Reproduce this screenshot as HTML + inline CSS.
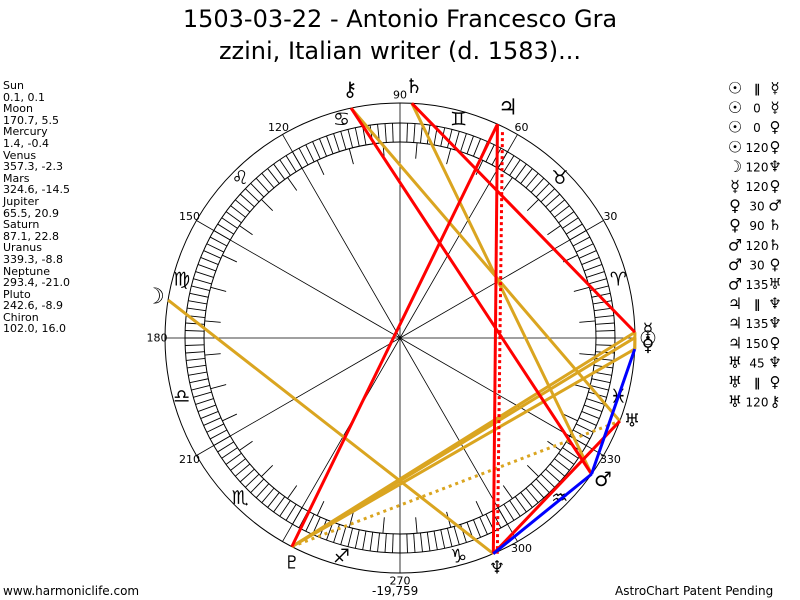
<!DOCTYPE html>
<html><head><meta charset="utf-8"><style>
body{margin:0;background:#fff;width:800px;height:600px;overflow:hidden;font-family:"DejaVu Sans","Liberation Sans",sans-serif}
#t{position:absolute;left:0;width:800px;text-align:center;font-size:24px;top:3px;line-height:32px;font-family:"DejaVu Sans",sans-serif}
#l{position:absolute;left:3px;top:80px;font-size:11px;line-height:11.6px}
.b{position:absolute;font-size:12px}
</style></head><body>
<div id="t">1503-03-22 - Antonio Francesco Gra<br>zzini, Italian writer (d. 1583)...</div>
<div id="l">Sun<br>0.1, 0.1<br>Moon<br>170.7, 5.5<br>Mercury<br>1.4, -0.4<br>Venus<br>357.3, -2.3<br>Mars<br>324.6, -14.5<br>Jupiter<br>65.5, 20.9<br>Saturn<br>87.1, 22.8<br>Uranus<br>339.3, -8.8<br>Neptune<br>293.4, -21.0<br>Pluto<br>242.6, -8.9<br>Chiron<br>102.0, 16.0</div>
<div class="b" style="left:3px;top:584px">www.harmoniclife.com</div>
<div class="b" style="left:372px;top:584px">-19,759</div>
<div class="b" style="left:615px;top:584px">AstroChart Patent Pending</div>
<svg id="s" width="800" height="600" style="position:absolute;left:0;top:0"></svg>
<script>
var cx=400,cy=338,s='';
function P(a,r){var t=a*Math.PI/180;return [cx+r*Math.cos(t),cy-r*Math.sin(t)];}
function L(a,b,c,w,d){s+='<line x1="'+a[0]+'" y1="'+a[1]+'" x2="'+b[0]+'" y2="'+b[1]+'" stroke="'+c+'" stroke-width="'+w+'"'+(d?' stroke-dasharray="'+d+'"':'')+'/>';}
function T(p,txt,sz,fill){s+='<text x="'+p[0]+'" y="'+p[1]+'" font-size="'+sz+'" text-anchor="middle" dominant-baseline="central" fill="'+(fill||'#000')+'">'+txt+'</text>';}
s+='<circle cx="400" cy="338" r="235" fill="none" stroke="#000"/>';
s+='<circle cx="400" cy="338" r="215" fill="none" stroke="#000"/>';
s+='<circle cx="400" cy="338" r="196" fill="none" stroke="#000"/>';
for(var a=0;a<360;a+=2)L(P(a,196),P(a,215),'#000',0.9);
for(var a=5;a<360;a+=10)L(P(a,180),P(a,196),'#000',0.9);
for(var a=0;a<360;a+=30){L([cx,cy],P(a,235),'#000',0.8);}
var lab={30:'30',60:'60',90:'90',120:'120',150:'150',180:'180',210:'210',270:'270',300:'300',330:'330'};
for(var k in lab){var p=P(+k,243);s+='<text x="'+p[0]+'" y="'+p[1]+'" font-size="11" text-anchor="middle" dominant-baseline="central">'+lab[k]+'</text>';}
var sg='♈♉♊♋♌♍♎♏♐♑♒♓';
for(var i=0;i<12;i++)T(P(i*30+15,226),sg[i]+'\uFE0E',19,'#000');
var pl={Su:0.1,Mo:170.7,Me:1.4,Ve:357.3,Ma:324.6,Ju:65.5,Sa:87.1,Ur:339.3,Ne:293.4,Pl:242.6,Ch:102};
function Q(n){return P(pl[n],235);}
var G='#daa520',R='#ff0000',B='#0000ff';
L(Q('Mo'),Q('Ne'),G,3);L(Q('Ch'),Q('Ur'),G,3);L(Q('Sa'),Q('Ma'),G,3);
L(Q('Pl'),Q('Su'),G,3);L(Q('Pl'),Q('Me'),G,3);L(Q('Pl'),Q('Ve'),G,3);
L(Q('Pl'),Q('Ur'),G,3,'3,4');L(Q('Ve'),Q('Su'),G,3);L(Q('Ve'),Q('Me'),G,3);
L(Q('Pl'),Q('Ju'),R,3);L(Q('Sa'),Q('Me'),R,3);L(Q('Ch'),Q('Ma'),R,3);
L(Q('Ju'),Q('Ne'),R,3);var j=Q('Ju'),n=Q('Ne');L([j[0]+5,j[1]+8],[n[0]+4,n[1]],R,3,'3,3');
L(Q('Ne'),Q('Ur'),R,3);
L(Q('Ve'),Q('Ma'),B,3);L(Q('Ma'),Q('Ne'),B,3);
T([350,89],'⚷',20);T([414,86],'♄',20);T([508,108],'♃',22);T([155,297],'☽',22);
T([648,330],'☿',17);T([648,338],'☉',20);T([648,346],'♀',17);
T([632,421],'♅',18);T([603,479],'♂',20);T([497,568],'♆',18);T([292,563],'♇',18);
var lg=[['☉','∥','☿'],['☉','0','☿'],['☉','0','♀'],['☉','120','♀'],['☽','120','♆'],['☿','120','♀'],['♀','30','♂'],['♀','90','♄'],['♂','120','♄'],['♂','30','♀'],['♂','135','♅'],['♃','∥','♆'],['♃','135','♆'],['♃','150','♀'],['♅','45','♆'],['♅','∥','♀'],['♅','120','⚷']];
for(var i=0;i<lg.length;i++){var y=88+i*19.6;
s+='<text x="735" y="'+y+'" font-size="16" text-anchor="middle" dominant-baseline="central">'+lg[i][0]+'</text>';
s+='<text x="757" y="'+(y+1)+'" font-size="12" text-anchor="middle" dominant-baseline="central"'+(lg[i][1]=='∥'?' font-weight="bold" font-size="15"':'')+'>'+lg[i][1]+'</text>';
s+='<text x="775" y="'+y+'" font-size="15" text-anchor="middle" dominant-baseline="central">'+lg[i][2]+'</text>';}
document.getElementById('s').innerHTML=s;
</script>
</body></html>
